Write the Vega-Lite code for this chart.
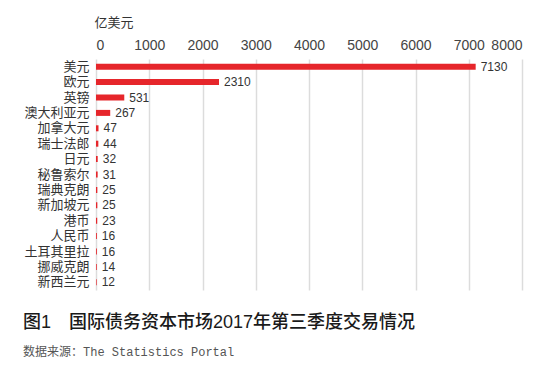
{
  "$schema": "https://vega.github.io/schema/vega-lite/v6.json",
  "width": 426,
  "height": 231,
  "autosize": "none",
  "padding": {"left": 96, "top": 59, "right": 28, "bottom": 87},
  "background": "white",
  "config": {
    "view": {"stroke": null},
    "font": "Liberation Sans, Noto Sans CJK SC, sans-serif"
  },
  "title": {
    "text": "图1　国际债务资本市场2017年第三季度交易情况",
    "subtitle": "数据来源：The Statistics Portal",
    "orient": "bottom",
    "anchor": "start",
    "frame": "group",
    "dx": -73,
    "offset": 24,
    "fontSize": 18,
    "fontWeight": 500,
    "color": "#1a1a1a",
    "font": "Liberation Sans, Noto Sans CJK SC, sans-serif",
    "subtitleFont": "Liberation Mono, Noto Sans CJK SC, monospace",
    "subtitleFontSize": 12,
    "subtitleColor": "#555",
    "subtitlePadding": 15
  },
  "data": {
    "values": [
      {"currency": "美元", "value": 7130},
      {"currency": "欧元", "value": 2310},
      {"currency": "英镑", "value": 531},
      {"currency": "澳大利亚元", "value": 267},
      {"currency": "加拿大元", "value": 47},
      {"currency": "瑞士法郎", "value": 44},
      {"currency": "日元", "value": 32},
      {"currency": "秘鲁索尔", "value": 31},
      {"currency": "瑞典克朗", "value": 25},
      {"currency": "新加坡元", "value": 25},
      {"currency": "港币", "value": 23},
      {"currency": "人民币", "value": 16},
      {"currency": "土耳其里拉", "value": 16},
      {"currency": "挪威克朗", "value": 14},
      {"currency": "新西兰元", "value": 12}
    ]
  },
  "encoding": {
    "y": {
      "field": "currency",
      "type": "nominal",
      "sort": null,
      "scale": {"paddingInner": 0.61, "paddingOuter": 0.305},
      "axis": {
        "title": null,
        "domain": false,
        "ticks": false,
        "labelPadding": 7,
        "labelFontSize": 13,
        "labelColor": "#333",
        "labelFont": "Liberation Sans, Noto Sans CJK SC, sans-serif"
      }
    },
    "x": {
      "field": "value",
      "type": "quantitative",
      "scale": {"domain": [0, 8000], "nice": false},
      "axis": {
        "orient": "top",
        "values": [0, 1000, 2000, 3000, 4000, 5000, 6000, 7000, 8000],
        "format": "d",
        "title": "亿美元",
        "titleX": -2,
        "titleY": -37,
        "titleAlign": "left",
        "titleAnchor": "start",
        "titleBaseline": "middle",
        "titleFontSize": 13,
        "titleFontWeight": "normal",
        "titleColor": "#333",
        "titleFont": "Liberation Sans, Noto Sans CJK SC, sans-serif",
        "domain": false,
        "ticks": false,
        "labelPadding": 7,
        "labelFontSize": 14,
        "labelColor": "#444",
        "gridColor": "#dcdcdc",
        "gridWidth": 1.5
      }
    }
  },
  "layer": [
    {"mark": {"type": "bar", "color": "#e6262b"}},
    {
      "mark": {"type": "text", "align": "left", "dx": 5, "fontSize": 12, "color": "#333"},
      "encoding": {"text": {"field": "value", "type": "quantitative", "format": "d"}}
    }
  ]
}
